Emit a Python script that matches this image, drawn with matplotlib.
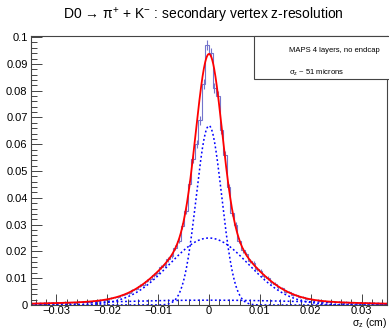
import numpy as np
import matplotlib
matplotlib.use("Agg")
import matplotlib.pyplot as plt
from matplotlib.patches import Rectangle

plt.rcParams['font.family'] = ['Liberation Sans', 'DejaVu Sans']
plt.rcParams['mathtext.fontset'] = 'custom'
plt.rcParams['mathtext.rm'] = 'Liberation Sans'
plt.rcParams['mathtext.it'] = 'Liberation Sans'

# histogram: 100 bins from -0.035 to 0.035 cm (normalised content)
x_min, x_max, n_bins = -0.035, 0.035, 100
hist_vals = [
    0.0004, 0.0006, 0.0005, 0.0007, 0.0005, 0.0008, 0.0006, 0.0009, 0.0007, 0.0012,
    0.0008, 0.0010, 0.0009, 0.0012, 0.0010, 0.0013, 0.0011, 0.0016, 0.0014, 0.0018,
    0.0020, 0.0019, 0.0026, 0.0028, 0.0030, 0.0037, 0.0040, 0.0045, 0.0055, 0.0060,
    0.0072, 0.0076, 0.0090, 0.0097, 0.0113, 0.0121, 0.0140, 0.0148, 0.0170, 0.0183,
    0.0214, 0.0240, 0.0296, 0.0350, 0.0450, 0.0545, 0.0600, 0.0690, 0.0825, 0.0970,
    0.0940, 0.0810, 0.0780, 0.0655, 0.0560, 0.0440, 0.0345, 0.0300, 0.0240, 0.0205,
    0.0190, 0.0163, 0.0155, 0.0133, 0.0127, 0.0108, 0.0101, 0.0085, 0.0080, 0.0066,
    0.0063, 0.0050, 0.0049, 0.0039, 0.0037, 0.0030, 0.0029, 0.0022, 0.0024, 0.0017,
    0.0019, 0.0014, 0.0016, 0.0012, 0.0014, 0.0010, 0.0012, 0.0009, 0.0011, 0.0008,
    0.0010, 0.0007, 0.0009, 0.0006, 0.0008, 0.0006, 0.0007, 0.0005, 0.0006, 0.0004,
]
n_events = 25000  # sets the size of the statistical error bars

# fit components: (amplitude, mean, sigma)
narrow = (0.0669, 0.0, 0.0025)
wide = (0.0250, 0.0, 0.0078)
broad = (0.0018, 0.0, 0.022)

edges = np.linspace(x_min, x_max, n_bins + 1)
centers = 0.5 * (edges[:-1] + edges[1:])
vals = np.array(hist_vals)
errs = np.sqrt(vals / n_events)


def gaus(x, p):
    a, m, s = p
    return a * np.exp(-0.5 * ((x - m) / s) ** 2)


fig = plt.figure(figsize=(3.89, 3.30), dpi=100)
ax = fig.add_axes([31 / 389, 1 - 305 / 330, 356 / 389, 269 / 330])

hcol = '#7474cc'
ax.stairs(vals, edges, color=hcol, lw=0.8)
ax.vlines(centers, vals - errs, vals + errs, color=hcol, lw=0.8)

xf = np.linspace(x_min, x_max, 800)
for comp in (narrow, wide, broad):
    ax.plot(xf, gaus(xf, comp), color='#0000ff', ls=(0, (1.2, 1.6)), lw=1.1)
ax.plot(xf, gaus(xf, narrow) + gaus(xf, wide) + gaus(xf, broad),
        color='#ff0000', lw=1.3)

ax.set_xlim(x_min, x_max)
ax.set_ylim(0, 0.1004)
ax.set_xticks([-0.03, -0.02, -0.01, 0, 0.01, 0.02, 0.03])
ax.set_xticklabels(['\u22120.03', '\u22120.02', '\u22120.01', '0', '0.01', '0.02', '0.03'])
ax.set_xticks(np.arange(-0.034, 0.0341, 0.002), minor=True)
ax.set_yticks(np.arange(0, 0.101, 0.01))
ax.set_yticklabels(['0', '0.01', '0.02', '0.03', '0.04', '0.05', '0.06', '0.07', '0.08', '0.09', '0.1'])
ax.set_yticks(np.arange(0, 0.1, 0.002), minor=True)
ax.tick_params(which='both', direction='in', labelsize=8, color='#444444', width=0.7)
ax.tick_params(which='major', length=8, pad=2.5)
ax.tick_params(axis='x', which='major', pad=1.0)
ax.tick_params(which='minor', length=4)
for s in ax.spines.values():
    s.set_color('#444444')
    s.set_linewidth(0.8)

ax.set_xlabel(r'$\sigma_{z}$ (cm)', fontsize=7.5)
ax.xaxis.set_label_coords(1.0, -17.5 / 269)
ax.xaxis.label.set_horizontalalignment('right')
ax.xaxis.label.set_verticalalignment('center')

fig.text(203 / 389, 1 - 15 / 330,
         'D0 \u2192 $\\pi^{+}$ + K$^{-}$ : secondary vertex z-resolution',
         ha='center', va='center', fontsize=10)

# info box
fig.patches.append(Rectangle((254 / 389, 1 - 79 / 330), 140 / 389, 43 / 330,
                             transform=fig.transFigure, fill=True, facecolor='white',
                             edgecolor='#444444', lw=0.8, zorder=5))
fig.text(289 / 389, 1 - 51 / 330, 'MAPS 4 layers, no endcap', fontsize=5.5,
         va='center', zorder=6)
fig.text(289 / 389, 1 - 73 / 330, r'$\sigma_{z}$ ~ 51 microns', fontsize=5.5,
         va='center', zorder=6)

fig.savefig('out.png', dpi=100)
